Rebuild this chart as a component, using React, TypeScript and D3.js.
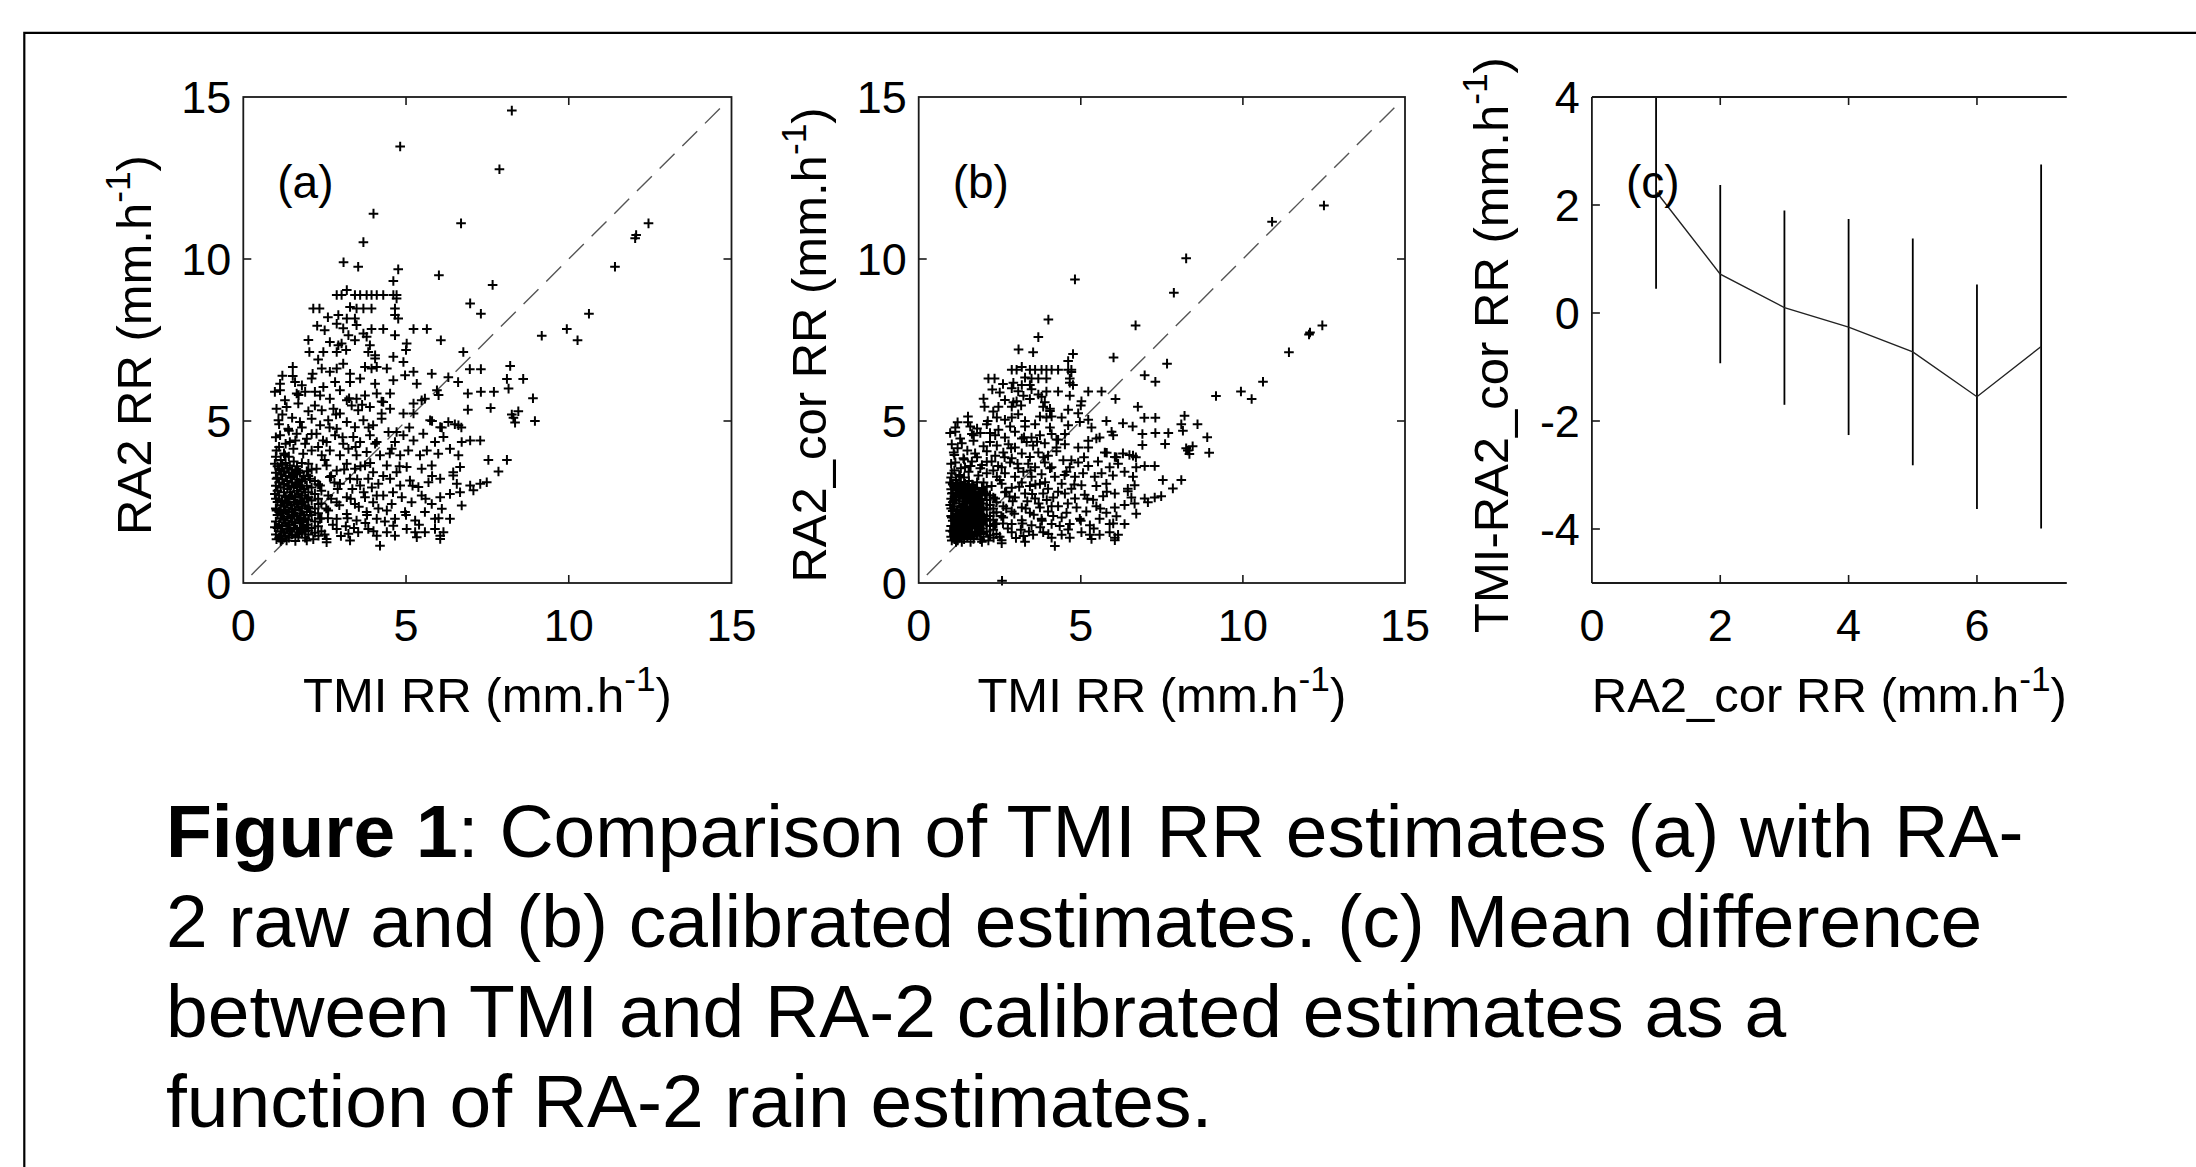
import React from "react";
import * as d3 from "d3";

const FONT = '"Liberation Sans", Arial, Helvetica, sans-serif';
const W = 2196;
const H = 1167;

// ---------------- DATA ----------------
// Panel (a): TMI RR (x) vs RA2 raw RR (y), mm/h
const panelA_TMI_RA2: [number, number][] = [
  [8.25,14.58],[4.82,13.47],[7.87,12.77],[4.0,11.4],[6.69,11.1],[3.69,10.52],[3.08,9.9],[3.53,9.76],[4.76,9.68],[6.01,9.5],[4.61,9.32],[7.66,9.2],
  [12.45,11.1],[12.07,10.74],[12.04,10.64],[11.42,9.76],[10.62,8.31],[9.94,7.84],[10.27,7.49],[9.17,7.63],
  [6.97,8.63],[7.3,8.31],[6.07,7.49],[5.64,7.84],[5.23,7.84],[4.3,7.84],[3.94,7.84],
  [8.2,6.7],[8.1,6.3],[8.15,6.0],[8.6,6.3],[8.9,5.7],[8.96,5.0],[8.3,5.1],[8.45,5.3],[8.25,5.2],[8.35,4.95],[8.1,3.8],[7.84,3.44],[7.53,3.8],[7.48,3.11],[7.28,3.06],[6.97,3.01],[7.07,2.86],
  [7.3,6.6],[6.96,6.6],[6.76,7.13],[6.6,6.2],[6.3,6.35],[5.79,6.46],[6.0,5.8],[7.7,5.9],[7.3,5.9],[6.9,5.85],[7.6,5.4],[6.9,5.35],[6.5,4.9],[6.7,4.8],[6.1,4.8],[5.8,5.0],
  [2.87,8.89],[3.02,8.89],[3.43,8.89],[3.59,8.89],[3.79,8.89],[3.94,8.89],[4.1,8.89],[4.3,8.89],[4.61,8.89],[4.71,8.89],[3.18,9.04],[4.71,8.78],
  [2.15,8.47],[2.34,8.47],[3.28,8.52],[3.48,8.47],[3.69,8.47],[3.94,8.47],[4.66,8.47],
  [2.92,8.27],[3.18,8.16],[3.43,8.16],[4.76,8.16],[4.66,8.27],[2.27,7.94],[2.87,8.0],[3.07,7.86],[3.48,7.96],
  [3.23,7.65],[3.69,7.7],[4.66,7.65],[3.79,7.6],[3.43,7.49],[2.66,7.44],[2.92,7.34],[3.02,7.39],[3.89,7.34],[5.02,7.39],[5.0,7.19],
  [2.03,7.13],[2.46,7.13],[2.87,7.13],[3.16,7.19],[3.84,7.13],[4.05,7.03],[4.92,6.82],[4.61,6.98],
  [1.52,6.67],[1.52,6.39],[2.13,6.46],[2.41,6.62],[2.66,6.52],[2.87,6.62],[3.07,6.77],[3.28,6.46],[3.74,6.67],[3.94,6.62],[4.1,6.67],[4.05,6.93],[4.41,6.62],[5.23,6.52],
  [1.13,6.15],[1.13,5.95],[1.59,6.2],[2.1,6.31],[2.46,6.05],[2.82,6.2],[3.28,6.2],[3.59,6.31],[4.05,6.15],[4.61,6.26],[4.97,6.41],[5.33,6.15],
  [0.97,5.9],[1.28,5.64],[1.64,5.85],[1.9,5.9],[2.36,5.79],[2.66,5.69],[2.97,5.95],[3.18,5.64],[3.48,5.69],[3.74,5.79],[4.1,5.85],[4.51,5.85],[4.3,5.59],[5.58,5.69],[5.95,5.95],
  [1.02,5.38],[1.33,5.43],[1.69,5.54],[2.2,5.48],[2.41,5.33],[2.77,5.38],[2.97,5.23],[3.33,5.48],[3.53,5.33],[3.89,5.43],[4.25,5.23],[4.51,5.38],[5.23,5.54],[5.48,5.64],[4.92,5.23],[5.23,5.23],
  [1.08,5.02],[1.38,4.76],[1.74,4.97],[2.1,5.07],[2.36,4.87],[2.61,5.02],[2.87,4.76],[3.18,4.97],[3.43,4.81],[3.69,5.02],[3.99,4.87],[4.25,5.07],[4.71,4.66],[5.74,5.02],[6.05,4.81],[6.3,4.97],[6.61,4.87],
  [1.13,4.56],[1.43,4.35],[1.64,4.61],[1.95,4.45],[2.25,4.61],[2.56,4.35],[2.82,4.56],[3.07,4.3],[3.38,4.51],[3.59,4.35],[3.89,4.56],[4.1,4.35],[4.46,4.66],[4.66,4.35],[4.92,4.56],[5.23,4.4],[5.53,4.61],[5.89,4.35],[6.15,4.51],[6.71,4.35],[6.97,4.4],[7.28,4.4],
  [1.02,4.09],[1.28,3.94],[1.54,4.14],[1.84,3.99],[2.1,4.09],[2.41,3.94],[2.66,4.09],[2.97,3.94],[3.23,4.14],[3.48,3.94],[3.79,4.04],[4.2,3.94],[4.56,4.14],[4.82,3.94],[5.07,4.09],[5.43,3.94],[5.64,4.09],[5.99,3.99],[6.35,4.14],[6.61,3.94],
  [0.97,3.68],[1.18,3.53],[1.43,3.63],[1.69,3.47],[2.0,3.68],[2.25,3.53],[2.56,3.63],[2.87,3.47],[3.18,3.68],[3.43,3.53],[3.74,3.63],[3.99,3.42],[4.41,3.63],[4.71,3.42],[5.02,3.58],[5.48,3.53],[5.79,3.63],[6.45,3.42],[6.66,3.58],
  [1.02,3.22],[1.23,3.06],[1.49,3.27],[1.74,3.01],[2.05,3.22],[2.36,3.01],[2.66,3.27],[2.97,3.06],[3.28,3.22],[3.59,3.01],[3.84,3.22],[4.15,3.06],[4.51,3.22],[4.82,3.01],[5.12,3.16],[5.38,2.96],[5.69,3.11],[6.05,3.22],[6.45,3.32],[6.56,3.06],
  [0.97,2.75],[1.18,2.49],[1.43,2.7],[1.69,2.44],[2.0,2.65],[2.31,2.44],[2.61,2.7],[2.87,2.49],[3.18,2.65],[3.43,2.44],[3.74,2.65],[3.99,2.49],[4.3,2.7],[4.56,2.44],[4.87,2.65],[5.17,2.49],[5.48,2.7],[5.79,2.44],[6.05,2.65],[6.35,2.75],[6.66,2.8],[6.71,2.39],
  [1.02,2.24],[1.23,1.98],[1.49,2.19],[1.74,1.93],[2.05,2.19],[2.36,1.98],[2.61,2.24],[2.87,1.98],[3.18,2.13],[3.48,1.93],[3.79,2.19],[4.1,1.98],[4.41,2.24],[4.66,1.98],[4.97,2.19],[5.28,1.93],[5.58,2.19],[5.89,1.98],[6.1,2.29],[6.35,1.98],
  [0.97,1.72],[1.18,1.46],[1.43,1.67],[1.69,1.41],[2.0,1.62],[2.31,1.46],[2.56,1.36],[2.87,1.67],[3.23,1.52],[3.53,1.57],[3.84,1.67],[4.1,1.46],[4.41,1.57],[4.66,1.46],[5.02,1.67],[5.28,1.57],[5.58,1.57],[5.89,1.67],[6.05,1.46],[6.15,1.57],[4.61,1.77],
  [1.33,1.31],[1.95,1.31],[2.56,1.26],[3.28,1.31],[4.2,1.15],[5.33,1.41],[6.05,1.36],
  [1.0,1.5],[1.0,1.9],[1.0,2.3],[1.0,2.6],[1.0,3.0],[1.0,3.4],[1.0,3.9],
  [1.05,1.7],[1.05,2.1],[1.05,2.5],[1.05,2.85],[1.05,3.25],[1.05,3.6],
  [1.1,1.4],[1.1,1.8],[1.1,2.2],[1.1,2.7],[1.1,3.1],[1.1,3.5],[1.1,4.2],
  [1.15,1.6],[1.15,2.0],[1.15,2.4],[1.15,2.95],[1.15,3.35],[1.15,3.8],
  [1.2,1.35],[1.2,1.75],[1.2,2.15],[1.2,2.55],[1.2,3.2],[1.2,3.65],
  [1.25,1.55],[1.25,1.95],[1.25,2.35],[1.25,2.8],[1.25,3.05],[1.25,3.45],[1.25,4.0],
  [1.3,1.45],[1.3,1.85],[1.3,2.25],[1.3,2.65],[1.3,3.3],[1.3,3.7],
  [1.35,1.65],[1.35,2.05],[1.35,2.45],[1.35,2.9],[1.35,3.15],[1.35,3.55],
  [1.4,1.4],[1.4,1.8],[1.4,2.2],[1.4,2.6],[1.4,3.0],[1.4,3.4],[1.4,3.9],
  [1.45,1.6],[1.45,2.0],[1.45,2.4],[1.45,2.8],[1.45,3.25],
  [1.5,1.5],[1.5,1.9],[1.5,2.3],[1.5,2.7],[1.5,3.1],[1.5,3.5],
  [1.55,1.7],[1.55,2.1],[1.55,2.5],[1.55,2.95],[1.55,3.35],[1.55,3.75],
  [1.6,1.45],[1.6,1.85],[1.6,2.25],[1.6,2.65],[1.6,3.05],[1.6,3.45],
  [1.65,1.65],[1.65,2.05],[1.65,2.45],[1.65,2.85],[1.65,3.2],[1.65,3.6],
  [1.7,1.5],[1.7,1.95],[1.7,2.35],[1.7,2.75],[1.7,3.1],
  [1.75,1.7],[1.75,2.15],[1.75,2.55],[1.75,2.95],[1.75,3.4],
  [1.8,1.55],[1.8,1.9],[1.8,2.3],[1.8,2.7],[1.8,3.15],[1.8,3.7],
  [1.85,1.75],[1.85,2.1],[1.85,2.5],[1.85,2.9],[1.85,3.3],
  [1.9,1.6],[1.9,2.0],[1.9,2.4],[1.9,2.8],[1.9,3.2],
  [1.95,1.8],[1.95,2.2],[1.95,2.6],[1.95,3.0],[1.95,3.45],
  [2.0,1.5],[2.0,1.95],[2.0,2.35],[2.0,2.8],[2.0,3.3],
  [2.1,1.7],[2.1,2.1],[2.1,2.55],[2.1,2.95],[2.1,3.5],
  [2.2,1.55],[2.2,1.9],[2.2,2.3],[2.2,2.75],[2.2,3.15],
  [2.3,1.75],[2.3,2.15],[2.3,2.6],[2.3,3.05],
  [2.4,1.6],[2.4,2.0],[2.4,2.45],[2.4,2.85],
  [2.5,3.8],[2.7,3.3],[2.9,2.9],[3.1,3.5],[3.3,2.6],[3.5,3.2],[3.7,2.8],[3.9,3.7],[4.1,2.7],[4.3,3.3],
  [2.55,2.3],[2.75,1.8],[2.95,2.4],[3.15,1.75],[3.35,2.9],[3.55,2.35],[3.75,1.85],[3.95,2.95],[4.15,2.3],[4.35,1.9],
  [2.45,4.4],[2.65,4.8],[2.85,5.2],[3.05,4.5],[3.25,5.7],[3.45,4.2],[3.65,5.5],[3.85,4.8],[4.05,4.3],[4.25,5.6],
  [1.0,4.5],[1.1,4.9],[1.2,5.2],[1.3,4.3],[1.4,4.7],[1.5,5.1],[1.6,4.4],[1.7,5.8],[1.8,4.8],[1.9,4.3],
  [2.0,5.3],[2.1,4.6],[2.2,5.9],[2.3,4.2],[1.2,6.4],[1.8,6.1],[2.3,6.9],[2.5,7.8],[2.6,8.2],[2.0,7.5],
  [2.5,1.5],[2.6,2.0],[2.7,2.6],[2.8,3.1],[3.0,1.45],[3.2,2.0],[3.4,1.7],[3.6,3.6],[3.8,2.1],[4.0,1.6],
  [4.6,2.8],[4.8,3.6],[5.0,2.1],[5.2,3.0],[5.4,1.8],[5.6,2.6],[5.8,3.3],[6.0,2.0],[4.5,4.0],[5.1,4.8],
  [1.02,1.35],[1.15,1.3],[1.6,1.3],[2.15,1.35],[1.9,1.4],
];

// Panel (b): TMI RR (x) vs RA2 calibrated RR (y), mm/h
const panelB_TMI_RA2cor: [number, number][] = [
  [8.25,10.02],[4.82,9.37],[7.87,8.96],[4.0,8.13],[6.69,7.95],[3.69,7.59],[3.08,7.21],[3.53,7.12],[4.76,7.07],[6.01,6.96],[4.61,6.85],[7.66,6.77],
  [12.45,7.95],[12.07,7.73],[12.04,7.67],[11.42,7.12],[10.62,6.21],[9.94,5.91],[10.27,5.68],[9.17,5.77],
  [6.97,6.41],[7.3,6.21],[6.07,5.68],[5.64,5.91],[5.23,5.91],[4.3,5.91],[3.94,5.91],
  [12.5,11.65],[10.9,11.15],[2.57,0.07],
  [8.2,5.16],[8.1,4.9],[8.15,4.7],[8.6,4.9],[8.9,4.5],[8.96,4.02],[8.3,4.09],[8.45,4.22],[8.25,4.16],[8.35,3.98],[8.1,3.18],[7.84,2.92],[7.53,3.18],[7.48,2.68],[7.28,2.64],[6.97,2.61],[7.07,2.49],
  [7.3,5.1],[6.96,5.1],[6.76,5.44],[6.6,4.83],[6.3,4.93],[5.79,5.0],[6.0,4.56],[7.7,4.63],[7.3,4.63],[6.9,4.6],[7.6,4.29],[6.9,4.26],[6.5,3.95],[6.7,3.88],[6.1,3.88],[5.8,4.02],
  [2.87,6.58],[3.02,6.58],[3.43,6.58],[3.59,6.58],[3.79,6.58],[3.94,6.58],[4.1,6.58],[4.3,6.58],[4.61,6.58],[4.71,6.58],[3.18,6.67],[4.71,6.51],
  [2.15,6.31],[2.34,6.31],[3.28,6.34],[3.48,6.31],[3.69,6.31],[3.94,6.31],[4.66,6.31],
  [2.92,6.18],[3.18,6.11],[3.43,6.11],[4.76,6.11],[4.66,6.18],[2.27,5.97],[2.87,6.01],[3.07,5.92],[3.48,5.98],
  [3.23,5.78],[3.69,5.82],[4.66,5.78],[3.79,5.75],[3.43,5.68],[2.66,5.65],[2.92,5.58],[3.02,5.61],[3.89,5.58],[5.02,5.61],[5.0,5.48],
  [2.03,5.44],[2.46,5.44],[2.87,5.44],[3.16,5.48],[3.84,5.44],[4.05,5.38],[4.92,5.24],[4.61,5.35],
  [1.52,5.14],[1.52,4.96],[2.13,5.0],[2.41,5.11],[2.66,5.04],[2.87,5.11],[3.07,5.21],[3.28,5.0],[3.74,5.14],[3.94,5.11],[4.1,5.14],[4.05,5.31],[4.41,5.11],[5.23,5.04],
  [1.13,4.8],[1.13,4.67],[1.59,4.83],[2.1,4.9],[2.46,4.73],[2.82,4.83],[3.28,4.83],[3.59,4.9],[4.05,4.8],[4.61,4.87],[4.97,4.97],[5.33,4.8],
  [0.97,4.63],[1.28,4.46],[1.64,4.6],[1.9,4.63],[2.36,4.56],[2.66,4.49],[2.97,4.67],[3.18,4.46],[3.48,4.49],[3.74,4.56],[4.1,4.6],[4.51,4.6],[4.3,4.42],[5.58,4.49],[5.95,4.67],
  [1.02,4.28],[1.33,4.31],[1.69,4.39],[2.2,4.35],[2.41,4.24],[2.77,4.28],[2.97,4.18],[3.33,4.35],[3.53,4.24],[3.89,4.31],[4.25,4.18],[4.51,4.28],[5.23,4.39],[5.48,4.46],[4.92,4.18],[5.23,4.18],
  [1.08,4.03],[1.38,3.85],[1.74,4.0],[2.1,4.07],[2.36,3.93],[2.61,4.03],[2.87,3.85],[3.18,4.0],[3.43,3.89],[3.69,4.03],[3.99,3.93],[4.25,4.07],[4.71,3.79],[5.74,4.03],[6.05,3.89],[6.3,4.0],[6.61,3.93],
  [1.13,3.72],[1.43,3.57],[1.64,3.75],[1.95,3.64],[2.25,3.75],[2.56,3.57],[2.82,3.72],[3.07,3.54],[3.38,3.68],[3.59,3.57],[3.89,3.72],[4.1,3.57],[4.46,3.79],[4.66,3.57],[4.92,3.72],[5.23,3.61],[5.53,3.75],[5.89,3.57],[6.15,3.68],[6.71,3.57],[6.97,3.61],[7.28,3.61],
  [1.02,3.39],[1.28,3.28],[1.54,3.43],[1.84,3.32],[2.1,3.39],[2.41,3.28],[2.66,3.39],[2.97,3.28],[3.23,3.43],[3.48,3.28],[3.79,3.36],[4.2,3.28],[4.56,3.43],[4.82,3.28],[5.07,3.39],[5.43,3.28],[5.64,3.39],[5.99,3.32],[6.35,3.43],[6.61,3.28],
  [0.97,3.1],[1.18,2.99],[1.43,3.06],[1.69,2.94],[2.0,3.1],[2.25,2.99],[2.56,3.06],[2.87,2.94],[3.18,3.1],[3.43,2.99],[3.74,3.06],[3.99,2.91],[4.41,3.06],[4.71,2.91],[5.02,3.02],[5.48,2.99],[5.79,3.06],[6.45,2.91],[6.66,3.02],
  [1.02,2.76],[1.23,2.64],[1.49,2.8],[1.74,2.61],[2.05,2.76],[2.36,2.61],[2.66,2.8],[2.97,2.64],[3.28,2.76],[3.59,2.61],[3.84,2.76],[4.15,2.64],[4.51,2.76],[4.82,2.61],[5.12,2.72],[5.38,2.57],[5.69,2.68],[6.05,2.76],[6.45,2.83],[6.56,2.64],
  [0.97,2.41],[1.18,2.21],[1.43,2.37],[1.69,2.17],[2.0,2.33],[2.31,2.17],[2.61,2.37],[2.87,2.21],[3.18,2.33],[3.43,2.17],[3.74,2.33],[3.99,2.21],[4.3,2.37],[4.56,2.17],[4.87,2.33],[5.17,2.21],[5.48,2.37],[5.79,2.17],[6.05,2.33],[6.35,2.41],[6.66,2.45],[6.71,2.14],
  [1.02,2.02],[1.23,1.82],[1.49,1.98],[1.74,1.78],[2.05,1.98],[2.36,1.82],[2.61,2.02],[2.87,1.82],[3.18,1.94],[3.48,1.78],[3.79,1.98],[4.1,1.82],[4.41,2.02],[4.66,1.82],[4.97,1.98],[5.28,1.78],[5.58,1.98],[5.89,1.82],[6.1,2.06],[6.35,1.82],
  [0.97,1.61],[1.18,1.4],[1.43,1.57],[1.69,1.36],[2.0,1.53],[2.31,1.4],[2.56,1.32],[2.87,1.57],[3.23,1.45],[3.53,1.49],[3.84,1.57],[4.1,1.4],[4.41,1.49],[4.66,1.4],[5.02,1.57],[5.28,1.49],[5.58,1.49],[5.89,1.57],[6.05,1.4],[6.15,1.49],[4.61,1.65],
  [1.33,1.27],[1.95,1.27],[2.56,1.23],[3.28,1.27],[4.2,1.14],[5.33,1.36],[6.05,1.32],
  [1.0,1.43],[1.0,1.76],[1.0,2.07],[1.0,2.3],[1.0,2.6],[1.0,2.89],[1.0,3.26],
  [1.05,1.59],[1.05,1.92],[1.05,2.22],[1.05,2.49],[1.05,2.78],[1.05,3.04],
  [1.1,1.35],[1.1,1.68],[1.1,1.99],[1.1,2.37],[1.1,2.67],[1.1,2.97],[1.1,3.47],
  [1.15,1.51],[1.15,1.84],[1.15,2.14],[1.15,2.56],[1.15,2.86],[1.15,3.18],
  [1.2,1.31],[1.2,1.64],[1.2,1.95],[1.2,2.26],[1.2,2.75],[1.2,3.07],
  [1.25,1.47],[1.25,1.8],[1.25,2.11],[1.25,2.45],[1.25,2.64],[1.25,2.93],[1.25,3.33],
  [1.3,1.39],[1.3,1.72],[1.3,2.03],[1.3,2.33],[1.3,2.82],[1.3,3.11],
  [1.35,1.55],[1.35,1.88],[1.35,2.18],[1.35,2.52],[1.35,2.71],[1.35,3.0],
  [1.4,1.35],[1.4,1.68],[1.4,1.99],[1.4,2.3],[1.4,2.6],[1.4,2.89],[1.4,3.26],
  [1.45,1.51],[1.45,1.84],[1.45,2.14],[1.45,2.45],[1.45,2.78],
  [1.5,1.43],[1.5,1.76],[1.5,2.07],[1.5,2.37],[1.5,2.67],[1.5,2.97],
  [1.55,1.59],[1.55,1.92],[1.55,2.22],[1.55,2.56],[1.55,2.86],[1.55,3.15],
  [1.6,1.39],[1.6,1.72],[1.6,2.03],[1.6,2.33],[1.6,2.64],[1.6,2.93],
  [1.65,1.55],[1.65,1.88],[1.65,2.18],[1.65,2.49],[1.65,2.75],[1.65,3.04],
  [1.7,1.43],[1.7,1.8],[1.7,2.11],[1.7,2.41],[1.7,2.67],
  [1.75,1.59],[1.75,1.95],[1.75,2.26],[1.75,2.56],[1.75,2.89],
  [1.8,1.47],[1.8,1.76],[1.8,2.07],[1.8,2.37],[1.8,2.71],[1.8,3.11],
  [1.85,1.64],[1.85,1.92],[1.85,2.22],[1.85,2.52],[1.85,2.82],
  [1.9,1.51],[1.9,1.84],[1.9,2.14],[1.9,2.45],[1.9,2.75],
  [1.95,1.68],[1.95,1.99],[1.95,2.3],[1.95,2.6],[1.95,2.93],
  [2.0,1.43],[2.0,1.8],[2.0,2.11],[2.0,2.45],[2.0,2.82],
  [2.1,1.59],[2.1,1.92],[2.1,2.26],[2.1,2.56],[2.1,2.97],
  [2.2,1.47],[2.2,1.76],[2.2,2.07],[2.2,2.41],[2.2,2.71],
  [2.3,1.64],[2.3,1.95],[2.3,2.3],[2.3,2.64],
  [2.4,1.51],[2.4,1.84],[2.4,2.18],[2.4,2.49],
  [2.5,3.18],[2.7,2.82],[2.9,2.52],[3.1,2.97],[3.3,2.3],[3.5,2.75],[3.7,2.45],[3.9,3.11],[4.1,2.37],[4.3,2.82],
  [2.55,2.07],[2.75,1.68],[2.95,2.14],[3.15,1.64],[3.35,2.52],[3.55,2.11],[3.75,1.72],[3.95,2.56],[4.15,2.07],[4.35,1.76],
  [2.45,3.61],[2.65,3.88],[2.85,4.16],[3.05,3.68],[3.25,4.5],[3.45,3.47],[3.65,4.36],[3.85,3.88],[4.05,3.54],[4.25,4.43],
  [1.0,3.68],[1.1,3.95],[1.2,4.16],[1.3,3.54],[1.4,3.81],[1.5,4.09],[1.6,3.61],[1.7,4.56],[1.8,3.88],[1.9,3.54],
  [2.0,4.22],[2.1,3.74],[2.2,4.63],[2.3,3.47],[1.2,4.96],[1.8,4.77],[2.3,5.29],[2.5,5.88],[2.6,6.14],[2.0,5.69],
  [2.5,1.43],[2.6,1.84],[2.7,2.3],[2.8,2.67],[3.0,1.39],[3.2,1.84],[3.4,1.59],[3.6,3.04],[3.8,1.92],[4.0,1.51],
  [4.6,2.45],[4.8,3.04],[5.0,1.92],[5.2,2.6],[5.4,1.68],[5.6,2.3],[5.8,2.82],[6.0,1.84],[4.5,3.33],[5.1,3.88],
  [1.02,1.31],[1.15,1.27],[1.6,1.27],[2.15,1.31],[1.9,1.35],
];

const scatterDomain = [0, 15];
const scatterTickLabels = [0, 5, 10, 15];
const scatterInnerTicks = [5, 10];
const oneToOneSpan = [0.25, 14.7];

// Panel (c): mean (and std) of TMI - RA2_cor per RA2_cor bin
const diffBins = [1, 2, 3, 4, 5, 6, 7];
const diffMean = [2.25, 0.72, 0.1, -0.26, -0.72, -1.55, -0.62];
const diffStd = [1.8, 1.65, 1.8, 2.0, 2.1, 2.08, 3.37];
const diffXDomain = [0, 7.4];
const diffYDomain = [-5, 4];
const diffXTicks = [0, 2, 4, 6];
const diffYTicks = [-4, -2, 0, 2, 4];

const panelLetters = ["(a)", "(b)", "(c)"];
const xTitles = ["TMI RR", "TMI RR", "RA2_cor RR"];
const yTitles = ["RA2 RR", "RA2_cor RR", "TMI-RA2_cor RR"];
const captionBold = "Figure 1";
const captionLines = [
  ": Comparison of TMI RR estimates (a) with RA-",
  "2 raw and (b) calibrated estimates. (c) Mean difference",
  "between TMI and RA-2 calibrated estimates as a",
  "function of RA-2 rain estimates.",
];

// ---------------- LAYOUT ----------------
const TOP = 97;
const BOTTOM = 583;
const PANEL_X = [
  [243.3, 731.5],
  [918.7, 1405],
  [1591.9, 2066.8],
];
const TICK_FS = 45;
const TITLE_FS = 49;
const LETTER_FS = 46;
const TICK_LEN = 8;
const AX = "#1a1a1a";
const MARK_R = 4.8;

function UnitTitle(props: { x: number; y: number; text: string; rotate?: boolean }) {
  const { x, y, text, rotate } = props;
  const sup = TITLE_FS * 0.72;
  const raise = TITLE_FS * 0.42;
  return (
    <text
      x={x}
      y={y}
      fontFamily={FONT}
      fontSize={TITLE_FS}
      textAnchor="middle"
      fill="#000"
      transform={rotate ? `rotate(-90 ${x} ${y})` : undefined}
    >
      {text + " (mm.h"}
      <tspan fontSize={sup} dy={-raise}>
        -1
      </tspan>
      <tspan dy={raise}>)</tspan>
    </text>
  );
}

function Scatter(props: { idx: number; data: [number, number][]; yTitleOffset: number }) {
  const { idx, data, yTitleOffset } = props;
  const [x0, x1] = PANEL_X[idx];
  const xs = d3.scaleLinear().domain(scatterDomain).range([x0, x1]);
  const ys = d3.scaleLinear().domain(scatterDomain).range([BOTTOM, TOP]);
  const marks = data
    .map(([a, b]) => {
      const px = xs(a);
      const py = ys(b);
      return `M${(px - MARK_R).toFixed(2)},${py.toFixed(2)}h${2 * MARK_R}M${px.toFixed(2)},${(py - MARK_R).toFixed(2)}v${2 * MARK_R}`;
    })
    .join("");
  return (
    <g>
      <line
        x1={xs(oneToOneSpan[0])}
        y1={ys(oneToOneSpan[0])}
        x2={xs(oneToOneSpan[1])}
        y2={ys(oneToOneSpan[1])}
        stroke="#555"
        strokeWidth={1.4}
        strokeDasharray="21 11"
      />
      <path d={marks} stroke="#000" strokeWidth={2} fill="none" />
      <rect x={x0} y={TOP} width={x1 - x0} height={BOTTOM - TOP} fill="none" stroke={AX} strokeWidth={1.8} />
      {scatterInnerTicks.map((t) => (
        <g key={"t" + t} stroke={AX} strokeWidth={1.6}>
          <line x1={xs(t)} x2={xs(t)} y1={BOTTOM} y2={BOTTOM - TICK_LEN} />
          <line x1={xs(t)} x2={xs(t)} y1={TOP} y2={TOP + TICK_LEN} />
          <line x1={x0} x2={x0 + TICK_LEN} y1={ys(t)} y2={ys(t)} />
          <line x1={x1} x2={x1 - TICK_LEN} y1={ys(t)} y2={ys(t)} />
        </g>
      ))}
      {scatterTickLabels.map((t) => (
        <text key={"xl" + t} x={xs(t)} y={BOTTOM + 57.7} fontFamily={FONT} fontSize={TICK_FS} textAnchor="middle">
          {t}
        </text>
      ))}
      {scatterTickLabels.map((t) => (
        <text key={"yl" + t} x={x0 - 12} y={ys(t) + TICK_FS * 0.36} fontFamily={FONT} fontSize={TICK_FS} textAnchor="end">
          {t}
        </text>
      ))}
      <text x={x0 + 34} y={198} fontFamily={FONT} fontSize={LETTER_FS}>
        {panelLetters[idx]}
      </text>
      <UnitTitle x={(x0 + x1) / 2} y={711.7} text={xTitles[idx]} />
      <UnitTitle x={x0 - yTitleOffset} y={345} text={yTitles[idx]} rotate />
    </g>
  );
}

function DiffPanel() {
  const [x0, x1] = PANEL_X[2];
  const xs = d3.scaleLinear().domain(diffXDomain).range([x0, x1]);
  const ys = d3.scaleLinear().domain(diffYDomain).range([BOTTOM, TOP]);
  const line = d3
    .line<number>()
    .x((_, i) => xs(diffBins[i]))
    .y((d) => ys(d));
  return (
    <g>
      <defs>
        <clipPath id="clipC">
          <rect x={x0} y={TOP} width={x1 - x0} height={BOTTOM - TOP} />
        </clipPath>
      </defs>
      <g clipPath="url(#clipC)">
        {diffBins.map((b, i) => (
          <line
            key={"eb" + b}
            x1={xs(b)}
            x2={xs(b)}
            y1={ys(diffMean[i] - diffStd[i])}
            y2={ys(diffMean[i] + diffStd[i])}
            stroke="#000"
            strokeWidth={1.8}
          />
        ))}
        <path d={line(diffMean) || ""} fill="none" stroke="#222" strokeWidth={1.4} />
      </g>
      <g stroke={AX} strokeWidth={1.8}>
        <line x1={x0} x2={x1} y1={TOP} y2={TOP} />
        <line x1={x0} x2={x1} y1={BOTTOM} y2={BOTTOM} />
        <line x1={x0} x2={x0} y1={TOP} y2={BOTTOM} />
      </g>
      {diffXTicks
        .filter((t) => t > diffXDomain[0])
        .map((t) => (
          <g key={"xt" + t} stroke={AX} strokeWidth={1.6}>
            <line x1={xs(t)} x2={xs(t)} y1={BOTTOM} y2={BOTTOM - TICK_LEN} />
            <line x1={xs(t)} x2={xs(t)} y1={TOP} y2={TOP + TICK_LEN} />
          </g>
        ))}
      {diffYTicks
        .filter((t) => t < diffYDomain[1])
        .map((t) => (
          <line key={"yt" + t} x1={x0} x2={x0 + TICK_LEN} y1={ys(t)} y2={ys(t)} stroke={AX} strokeWidth={1.6} />
        ))}
      {diffXTicks.map((t) => (
        <text key={"xl" + t} x={xs(t)} y={BOTTOM + 57.7} fontFamily={FONT} fontSize={TICK_FS} textAnchor="middle">
          {t}
        </text>
      ))}
      {diffYTicks.map((t) => (
        <text key={"yl" + t} x={x0 - 12} y={ys(t) + TICK_FS * 0.36} fontFamily={FONT} fontSize={TICK_FS} textAnchor="end">
          {t}
        </text>
      ))}
      <text x={x0 + 34} y={198} fontFamily={FONT} fontSize={LETTER_FS}>
        {panelLetters[2]}
      </text>
      <UnitTitle x={(x0 + x1) / 2} y={711.7} text={xTitles[2]} />
      <UnitTitle x={x0 - 84.4} y={345} text={yTitles[2]} rotate />
    </g>
  );
}

export default function App() {
  return (
    <svg
      width={W}
      height={H}
      viewBox={`0 0 ${W} ${H}`}
      style={{ position: "absolute", left: 0, top: 0, display: "block", background: "#fff" }}
    >
      <rect x={0} y={0} width={W} height={H} fill="#fff" />
      <path d={`M24.3,${H} V32.8 H${W}`} fill="none" stroke="#000" strokeWidth={2.2} />
      <Scatter idx={0} data={panelA_TMI_RA2} yTitleOffset={92.6} />
      <Scatter idx={1} data={panelB_TMI_RA2cor} yTitleOffset={92.6} />
      <DiffPanel />
      {captionLines.map((line, i) => (
        <text key={"cap" + i} x={166} y={857 + i * 90} fontFamily={FONT} fontSize={75} fill="#000">
          {i === 0 ? <tspan fontWeight="bold">{captionBold}</tspan> : null}
          {line}
        </text>
      ))}
    </svg>
  );
}
